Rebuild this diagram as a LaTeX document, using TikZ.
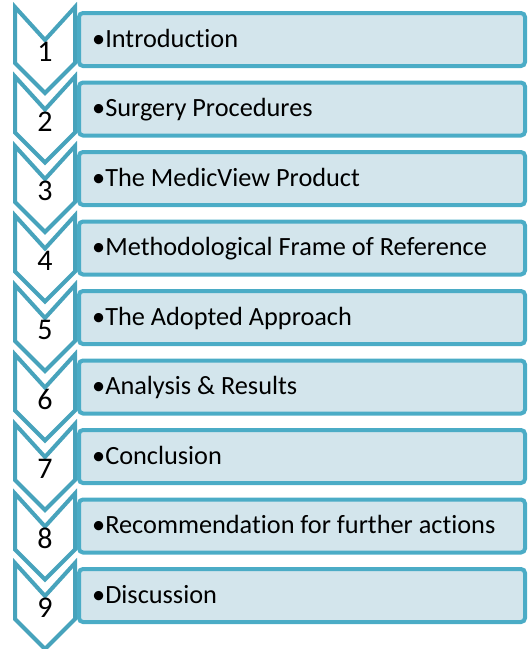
\documentclass[tikz,border=0pt]{standalone}
\usepackage{fontspec}
\setmainfont{Carlito}[Ligatures=CommonOff]
\definecolor{boxline}{HTML}{4BACC6}
\definecolor{chevline}{HTML}{47A3BC}
\definecolor{boxfill}{HTML}{D3E5EC}

\begin{document}
\begin{tikzpicture}[x=1pt,y=-1pt]
\tikzstyle{every node}+=[inner sep=0pt]
\tikzstyle{chev}=[draw=chevline,fill=white,line width=4pt,line join=miter]
\tikzstyle{rowbox}=[draw=boxline,fill=boxfill,line width=4pt,rounded corners=4pt,minimum width=446pt,minimum height=53pt]
\tikzstyle{rowtext}=[anchor=base west,font=\fontsize{26.3}{28}\selectfont]
\tikzstyle{numtext}=[font=\fontsize{30}{32}\selectfont]
\useasboundingbox (0,0) rectangle (528,649);
\draw [chev] (15,7) -- (45,40) -- (75,7) -- (75,63) -- (45,93) -- (15,63) -- cycle;
\draw [chev] (15,76.5) -- (45,109.5) -- (75,76.5) -- (75,132.5) -- (45,162.5) -- (15,132.5) -- cycle;
\draw [chev] (15,146) -- (45,179) -- (75,146) -- (75,202) -- (45,232) -- (15,202) -- cycle;
\draw [chev] (15,215.5) -- (45,248.5) -- (75,215.5) -- (75,271.5) -- (45,301.5) -- (15,271.5) -- cycle;
\draw [chev] (15,285) -- (45,318) -- (75,285) -- (75,341) -- (45,371) -- (15,341) -- cycle;
\draw [chev] (15,354.5) -- (45,387.5) -- (75,354.5) -- (75,410.5) -- (45,440.5) -- (15,410.5) -- cycle;
\draw [chev] (15,424) -- (45,457) -- (75,424) -- (75,480) -- (45,510) -- (15,480) -- cycle;
\draw [chev] (15,493.5) -- (45,526.5) -- (75,493.5) -- (75,549.5) -- (45,579.5) -- (15,549.5) -- cycle;
\draw [chev] (15,563) -- (45,596) -- (75,563) -- (75,619) -- (45,649) -- (15,619) -- cycle;
\node [numtext] (num1) at (45,52) {1};
\node [numtext] (num2) at (45,121.5) {2};
\node [numtext] (num3) at (45,191) {3};
\node [numtext] (num4) at (45,260.5) {4};
\node [numtext] (num5) at (45,330) {5};
\node [numtext] (num6) at (45,399.5) {6};
\node [numtext] (num7) at (45,469) {7};
\node [numtext] (num8) at (45,538.5) {8};
\node [numtext] (num9) at (45,608) {9};
\node [rowbox] (box1) at (302,39.5) {};
\node [rowbox] (box2) at (302,109) {};
\node [rowbox] (box3) at (302,178.5) {};
\node [rowbox] (box4) at (302,248) {};
\node [rowbox] (box5) at (302,317.5) {};
\node [rowbox] (box6) at (302,387) {};
\node [rowbox] (box7) at (302,456.5) {};
\node [rowbox] (box8) at (302,526) {};
\node [rowbox] (box9) at (302,595.5) {};
\node [rowtext] (item1) at (92,47) {•Introduction};
\node [rowtext] (item2) at (92,116.5) {•Surgery Procedures};
\node [rowtext] (item3) at (92,186) {•The MedicView Product};
\node [rowtext] (item4) at (92,255.5) {•Methodological Frame of Reference};
\node [rowtext] (item5) at (92,325) {•The Adopted Approach};
\node [rowtext] (item6) at (92,394.5) {•Analysis \& Results};
\node [rowtext] (item7) at (92,464) {•Conclusion};
\node [rowtext] (item8) at (92,533.5) {•Recommendation for further actions};
\node [rowtext] (item9) at (92,603) {•Discussion};
\end{tikzpicture}
\end{document}
